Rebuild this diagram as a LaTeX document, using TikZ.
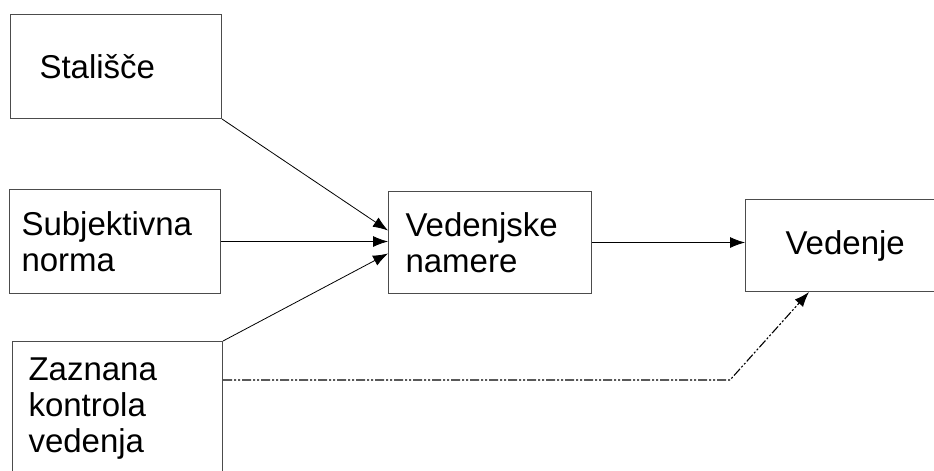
\documentclass[tikz,border=0pt]{standalone}
\usepackage{fontspec}
\setmainfont{Liberation Sans}
\usetikzlibrary{arrows.meta}
\begin{document}
\begin{tikzpicture}[x=1pt,y=-1pt,
    box/.style={draw=black!70,line width=1pt,anchor=north west,align=left,inner ysep=2pt,font=\fontsize{33}{36}\selectfont},
    arr/.style={-{Latex[length=15pt,width=11pt]},line width=0.8pt}]
            \useasboundingbox (0,0) rectangle (934,471);
            \node[box,text width=153pt,inner xsep=29pt,minimum height=104pt] (stal) at (10,14) {Stališče};
            \node[box,text width=187pt,inner xsep=12pt,minimum height=104pt] (norma) at (9,189) {Subjektivna\\norma};
            \node[box,text width=178pt,inner xsep=16pt,minimum height=135pt] (zazn) at (12,341) {Zaznana\\kontrola\\vedenja};
            \node[box,text width=169pt,inner xsep=17pt,minimum height=102pt] (namere) at (388,191) {Vedenjske\\namere};
            \node[box,text width=200pt,inner xsep=40pt,minimum height=92pt] (vedenje) at (745,199) {Vedenje};
            \coordinate (bend) at (730,380);
            \draw[arr] (stal.south east) -- ([yshift=12pt]namere.west);
            \draw[arr] (norma.east) -- (norma.east -| namere.west);
            \draw[arr] (zazn.north east) -- ([yshift=-11pt]namere.west);
            \draw[arr] (namere.east) -- (namere.east -| vedenje.west);
            \draw[arr,line width=1.1pt,dash pattern=on 9pt off 2pt on 2pt off 2pt on 2pt off 2pt] (zazn.east |- bend) -- (bend) -- ([xshift=64pt]vedenje.south west);
          \end{tikzpicture}
\end{document}
